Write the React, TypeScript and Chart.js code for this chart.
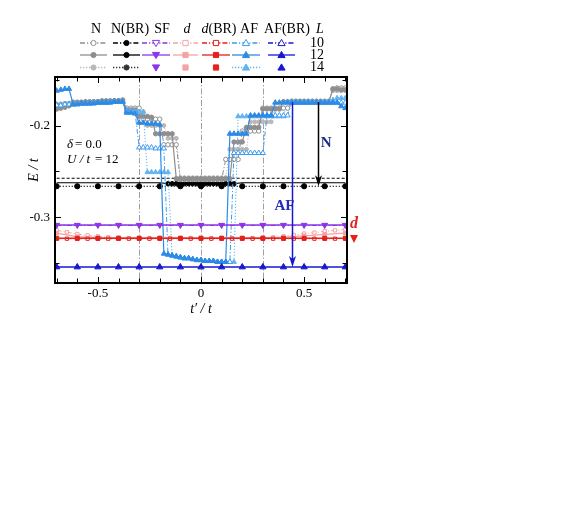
import React, { useEffect, useRef } from "react";
import { Chart, registerables } from "chart.js";
Chart.register(...registerables);

const SERIF = "'Liberation Serif', 'DejaVu Serif', serif";

// ---------- data ----------
// t'/t grid (step 0.02)
const TP = [
  -0.70, -0.68, -0.66, -0.64, -0.62, -0.60, -0.58, -0.56, -0.54, -0.52,
  -0.50, -0.48, -0.46, -0.44, -0.42, -0.40, -0.38, -0.36, -0.34, -0.32,
  -0.30, -0.28, -0.26, -0.24, -0.22, -0.20, -0.18, -0.16, -0.14, -0.12,
  -0.10, -0.08, -0.06, -0.04, -0.02, 0.00, 0.02, 0.04, 0.06, 0.08,
  0.10, 0.12, 0.14, 0.16, 0.18, 0.20, 0.22, 0.24, 0.26, 0.28,
  0.30, 0.32, 0.34, 0.36, 0.38, 0.40, 0.42, 0.44, 0.46, 0.48,
  0.50, 0.52, 0.54, 0.56, 0.58, 0.60, 0.62, 0.64, 0.66, 0.68,
  0.70,
];
// coarse grids
const TP10 = [-0.7, -0.6, -0.5, -0.4, -0.3, -0.2, -0.1, 0, 0.1, 0.2, 0.3, 0.4, 0.5, 0.6, 0.7];
const TP05 = [
  -0.70, -0.65, -0.60, -0.55, -0.50, -0.45, -0.40, -0.35, -0.30, -0.25,
  -0.20, -0.15, -0.10, -0.05, 0.00, 0.05, 0.10, 0.15, 0.20, 0.25,
  0.30, 0.35, 0.40, 0.45, 0.50, 0.55, 0.60, 0.65, 0.70,
];
const TP_NBR12 = [
  -0.7, -0.6, -0.5, -0.4, -0.3, -0.2, -0.16, -0.14, -0.12, -0.10,
  -0.08, -0.06, -0.04, -0.02, 0.00, 0.02, 0.04, 0.06, 0.08, 0.10,
  0.12, 0.14, 0.16, 0.2, 0.3, 0.4, 0.5, 0.6, 0.7,
];

// AF (L = 10, 12, 14)
const AF10 = [
  -0.178, -0.178, -0.177, -0.177, -0.177, -0.176, -0.176, -0.176, -0.176, -0.175,
  -0.175, -0.175, -0.175, -0.174, -0.174, -0.174, -0.174, -0.184, -0.184, -0.185,
  -0.224, -0.224, -0.224, -0.224, -0.225, -0.225, -0.225, -0.341, -0.342, -0.343,
  -0.344, -0.345, -0.345, -0.346, -0.347, -0.347, -0.348, -0.348, -0.348, -0.349,
  -0.349, -0.349, -0.349, -0.230, -0.230, -0.230, -0.230, -0.230, -0.230, -0.230,
  -0.230, -0.189, -0.189, -0.189, -0.189, -0.189, -0.189, -0.175, -0.175, -0.175,
  -0.175, -0.175, -0.175, -0.175, -0.175, -0.175, -0.175, -0.175, -0.175, -0.175,
  -0.175,
];
const AF12 = [
  -0.162, -0.161, -0.160, -0.160, -0.177, -0.177, -0.176, -0.176, -0.176, -0.176,
  -0.175, -0.175, -0.175, -0.175, -0.174, -0.174, -0.174, -0.186, -0.186, -0.187,
  -0.197, -0.197, -0.198, -0.198, -0.198, -0.199, -0.340, -0.341, -0.342, -0.343,
  -0.344, -0.345, -0.345, -0.346, -0.347, -0.347, -0.348, -0.348, -0.348, -0.349,
  -0.349, -0.349, -0.209, -0.209, -0.209, -0.209, -0.209, -0.189, -0.189, -0.189,
  -0.189, -0.189, -0.189, -0.175, -0.175, -0.175, -0.175, -0.175, -0.175, -0.175,
  -0.175, -0.175, -0.175, -0.175, -0.175, -0.175, -0.175, -0.175, -0.175, -0.179,
  -0.181,
];
const AF14 = [
  -0.177, -0.177, -0.177, -0.176, -0.176, -0.176, -0.176, -0.176, -0.175, -0.175,
  -0.175, -0.175, -0.175, -0.174, -0.174, -0.174, -0.173, -0.184, -0.184, -0.184,
  -0.185, -0.185, -0.251, -0.251, -0.251, -0.251, -0.251, -0.251, -0.342, -0.343,
  -0.344, -0.345, -0.345, -0.346, -0.347, -0.347, -0.348, -0.348, -0.348, -0.349,
  -0.349, -0.349, -0.349, -0.349, -0.190, -0.190, -0.190, -0.190, -0.190, -0.190,
  -0.190, -0.190, -0.190, -0.190, -0.190, -0.190, -0.174, -0.174, -0.174, -0.174,
  -0.174, -0.174, -0.174, -0.174, -0.174, -0.174, -0.174, -0.172, -0.170, -0.170,
  -0.170,
];

// N (L = 10, 12, 14)
const N10 = [
  -0.177, -0.177, -0.176, -0.176, -0.176, -0.175, -0.175, -0.175, -0.175, -0.174,
  -0.174, -0.174, -0.174, -0.174, -0.173, -0.173, -0.173, -0.181, -0.181, -0.181,
  -0.181, -0.193, -0.193, -0.193, -0.193, -0.193, -0.221, -0.221, -0.221, -0.221,
  -0.259, -0.259, -0.259, -0.259, -0.259, -0.259, -0.259, -0.259, -0.259, -0.259,
  -0.259, -0.237, -0.237, -0.237, -0.237, -0.206, -0.206, -0.206, -0.206, -0.206,
  -0.181, -0.181, -0.181, -0.181, -0.181, -0.181, -0.181, -0.174, -0.174, -0.174,
  -0.174, -0.174, -0.174, -0.174, -0.174, -0.174, -0.174, -0.160, -0.159, -0.159,
  -0.159,
];
const N12 = [
  -0.182, -0.181, -0.180, -0.178, -0.175, -0.175, -0.175, -0.174, -0.174, -0.174,
  -0.174, -0.173, -0.173, -0.173, -0.173, -0.173, -0.172, -0.183, -0.183, -0.183,
  -0.190, -0.190, -0.190, -0.191, -0.209, -0.209, -0.209, -0.209, -0.209, -0.258,
  -0.258, -0.258, -0.258, -0.258, -0.258, -0.258, -0.258, -0.258, -0.258, -0.258,
  -0.258, -0.258, -0.258, -0.218, -0.218, -0.218, -0.202, -0.202, -0.202, -0.202,
  -0.182, -0.182, -0.182, -0.182, -0.182, -0.174, -0.174, -0.174, -0.174, -0.174,
  -0.174, -0.174, -0.174, -0.174, -0.174, -0.174, -0.174, -0.160, -0.160, -0.161,
  -0.161,
];
const N14 = [
  -0.182, -0.181, -0.180, -0.179, -0.174, -0.174, -0.174, -0.174, -0.174, -0.174,
  -0.174, -0.174, -0.174, -0.174, -0.174, -0.174, -0.174, -0.185, -0.185, -0.185,
  -0.185, -0.185, -0.200, -0.200, -0.200, -0.200, -0.200, -0.214, -0.214, -0.214,
  -0.257, -0.257, -0.257, -0.257, -0.257, -0.257, -0.257, -0.257, -0.257, -0.257,
  -0.257, -0.257, -0.226, -0.226, -0.226, -0.226, -0.226, -0.196, -0.196, -0.196,
  -0.196, -0.196, -0.196, -0.181, -0.181, -0.181, -0.181, -0.173, -0.173, -0.173,
  -0.173, -0.173, -0.173, -0.173, -0.173, -0.173, -0.173, -0.162, -0.162, -0.162,
  -0.162,
];

// N(BR)
const NBR10 = [-0.2576, -0.2576, -0.2576, -0.2576, -0.2576, -0.2576, -0.2576, -0.2576, -0.2576, -0.2576, -0.2576, -0.2576, -0.2576, -0.2576, -0.2576];
const NBR12 = [
  -0.2625, -0.2625, -0.2625, -0.2625, -0.2625, -0.2625, -0.2635, -0.2635, -0.2635, -0.2635,
  -0.2635, -0.2635, -0.2635, -0.2635, -0.2635, -0.2635, -0.2635, -0.2635, -0.2635, -0.2635,
  -0.2635, -0.2635, -0.2635, -0.2625, -0.2625, -0.2625, -0.2625, -0.2625, -0.2625,
];
const NBR14 = [-0.2663, -0.2663, -0.2663, -0.2663, -0.2663, -0.2663, -0.2663, -0.2663, -0.2663, -0.2663, -0.2663, -0.2663, -0.2663, -0.2663, -0.2663];

// SF
const SF12 = [-0.3087, -0.3087, -0.3087, -0.3087, -0.3087, -0.3087, -0.3087, -0.3087, -0.3087, -0.3087, -0.3087, -0.3087, -0.3087, -0.3087, -0.3087];
const SF10 = [-0.3092, -0.3092, -0.3092, -0.3092, -0.3092, -0.3092, -0.3092, -0.3092, -0.3092, -0.3092, -0.3092, -0.3092, -0.3092, -0.3092, -0.3092];

// d
const D12 = [-0.3175, -0.3215, -0.3225, -0.3228, -0.3228, -0.3228, -0.3228, -0.3228, -0.3228, -0.3228, -0.3225, -0.3220, -0.3205, -0.3190, -0.3175];
const D10 = [
  -0.3145, -0.3165, -0.3185, -0.3200, -0.3210, -0.3220, -0.3225, -0.3228, -0.3228, -0.3228,
  -0.3228, -0.3228, -0.3228, -0.3228, -0.3228, -0.3228, -0.3228, -0.3228, -0.3228, -0.3228,
  -0.3225, -0.3220, -0.3210, -0.3195, -0.3180, -0.3170, -0.3155, -0.3145, -0.3135,
];

// d(BR)
const DBR12 = [-0.3232, -0.3232, -0.3232, -0.3232, -0.3232, -0.3232, -0.3232, -0.3232, -0.3232, -0.3232, -0.3232, -0.3232, -0.3232, -0.3232, -0.3232];
const DBR10 = [
  -0.3236, -0.3236, -0.3236, -0.3236, -0.3236, -0.3236, -0.3236, -0.3236, -0.3236, -0.3236,
  -0.3236, -0.3236, -0.3236, -0.3236, -0.3236, -0.3236, -0.3236, -0.3236, -0.3236, -0.3236,
  -0.3236, -0.3236, -0.3236, -0.3236, -0.3236, -0.3236, -0.3236, -0.3236, -0.3236,
];

// AF(BR)
const AFBR12 = [-0.3546, -0.3546, -0.3546, -0.3546, -0.3546, -0.3546, -0.3546, -0.3546, -0.3546, -0.3546, -0.3546, -0.3546, -0.3546, -0.3546, -0.3546];

// axis ticks
const X_LABELS = [-0.5, 0, 0.5];
const Y_LABELS = [-0.3, -0.2];
const X_MINOR = [-0.7, -0.6, -0.5, -0.4, -0.3, -0.2, -0.1, 0, 0.1, 0.2, 0.3, 0.4, 0.5, 0.6, 0.7];
const Y_MINOR = [-0.35, -0.3, -0.25, -0.2, -0.15];
const V_LINES = [-0.3, 0, 0.3];

// annotations (data coordinates)
const ARROW_AF = { x: 0.442, from: -0.1745, to: -0.3546 };
const ARROW_N = { x: 0.568, from: -0.1745, to: -0.2663 };
const LABEL_AF = { x: 0.405, y: -0.2875, text: "AF" };
const LABEL_N = { x: 0.607, y: -0.2195, text: "N" };
const LEG_ROWS = ["10", "12", "14"];

// ---------- styles ----------
const C = {
  N: "#8e8e8e",
  N14: "#b8b8b8",
  NBR: "#000000",
  SF: "#8b36e8",
  d: "#f3a3a3",
  dBR: "#e3211d",
  AF: "#2d8be6",
  AF10: "#3d9bf0",
  AF14: "#62b3f2",
  AFBR: "#1717d0",
};
const DASH_DOT = [5, 2, 1.2, 2];
const DOTTED = [1.3, 1.7];

function pts(xs: number[], ys: number[]) {
  return xs.map((x, i) => ({ x, y: ys[i] }));
}

function ds(
  label: string,
  xs: number[],
  ys: number[],
  color: string,
  dash: number[],
  marker: string,
  filled: boolean,
  radius: any,
  width: number,
  showLine = true
) {
  return {
    label,
    data: pts(xs, ys),
    borderColor: color,
    borderWidth: width,
    borderDash: dash,
    pointStyle: marker === "tdown" ? "triangle" : marker,
    rotation: marker === "tdown" ? 180 : 0,
    pointRotation: marker === "tdown" ? 180 : 0,
    pointRadius: radius,
    pointBackgroundColor: filled ? color : "#ffffff",
    pointBorderColor: color,
    pointBorderWidth: 1,
    showLine,
    fill: false,
    tension: 0,
  };
}

function drawMarker(ctx: CanvasRenderingContext2D, kind: string, x: number, y: number, color: string, filled: boolean) {
  ctx.save();
  ctx.setLineDash([]);
  ctx.lineWidth = 1;
  ctx.strokeStyle = color;
  ctx.fillStyle = filled ? color : "#ffffff";
  ctx.beginPath();
  if (kind === "circle") {
    ctx.arc(x, y, 2.6, 0, Math.PI * 2);
  } else if (kind === "square") {
    ctx.rect(x - 2.6, y - 2.6, 5.2, 5.2);
  } else if (kind === "tri") {
    ctx.moveTo(x, y - 3.6);
    ctx.lineTo(x + 3.6, y + 2.6);
    ctx.lineTo(x - 3.6, y + 2.6);
    ctx.closePath();
  } else if (kind === "tdown") {
    ctx.moveTo(x, y + 3.6);
    ctx.lineTo(x + 3.6, y - 2.6);
    ctx.lineTo(x - 3.6, y - 2.6);
    ctx.closePath();
  }
  ctx.fill();
  ctx.stroke();
  ctx.restore();
}

type Seg = [string, boolean];
const LEG_COLS: {
  head: Seg[];
  hx: number;
  x0: number;
  x1: number;
  mk: string;
  colors: string[];
  fill: boolean[];
  line: boolean[];
}[] = [
  { head: [["N", false]], hx: 96, x0: 80, x1: 107, mk: "circle", colors: [C.N, C.N, C.N14], fill: [false, true, true], line: [true, true, true] },
  { head: [["N(BR)", false]], hx: 130, x0: 113, x1: 140, mk: "circle", colors: [C.NBR, C.NBR, "#333333"], fill: [true, true, true], line: [true, true, true] },
  { head: [["SF", false]], hx: 162, x0: 142, x1: 170, mk: "tdown", colors: [C.SF, C.SF, C.SF], fill: [false, true, true], line: [true, true, false] },
  { head: [["d", true]], hx: 187, x0: 173, x1: 198, mk: "square", colors: [C.d, C.d, C.d], fill: [false, true, true], line: [true, true, false] },
  { head: [["d", true], ["(BR)", false]], hx: 219, x0: 202, x1: 230, mk: "square", colors: [C.dBR, C.dBR, C.dBR], fill: [false, true, true], line: [true, true, false] },
  { head: [["AF", false]], hx: 249, x0: 232, x1: 260, mk: "tri", colors: [C.AF10, C.AF, C.AF14], fill: [false, true, true], line: [true, true, true] },
  { head: [["AF(BR)", false]], hx: 287, x0: 268, x1: 295, mk: "tri", colors: [C.AFBR, C.AFBR, C.AFBR], fill: [false, true, true], line: [true, true, false] },
];
const ROW_Y = [42.5, 54.5, 67];
const ROW_DASH = [DASH_DOT, [], DOTTED];

function drawSegs(ctx: CanvasRenderingContext2D, segs: Seg[], cx: number, y: number, size: number) {
  const fonts = segs.map(([, it]) => `${it ? "italic " : ""}${size}px ${SERIF}`);
  let total = 0;
  const ws = segs.map(([t], i) => {
    ctx.font = fonts[i];
    const w = ctx.measureText(t).width;
    total += w;
    return w;
  });
  let x = cx - total / 2;
  segs.forEach(([t], i) => {
    ctx.font = fonts[i];
    ctx.textAlign = "left";
    ctx.fillText(t, x, y);
    x += ws[i];
  });
}

function arrow(ctx: CanvasRenderingContext2D, x: number, y0: number, y1: number, color: string) {
  ctx.save();
  ctx.setLineDash([]);
  ctx.strokeStyle = color;
  ctx.fillStyle = color;
  ctx.lineWidth = 1.5;
  ctx.beginPath();
  ctx.moveTo(x, y0);
  ctx.lineTo(x, y1 - 6);
  ctx.stroke();
  ctx.beginPath();
  ctx.moveTo(x, y1);
  ctx.lineTo(x - 3.5, y1 - 11);
  ctx.lineTo(x, y1 - 8);
  ctx.lineTo(x + 3.5, y1 - 11);
  ctx.closePath();
  ctx.fill();
  ctx.restore();
}

const decor = {
  id: "decor",
  beforeDatasetsDraw(chart: any) {
    const { ctx, chartArea: a } = chart;
    const xs = chart.scales.x;
    ctx.save();
    ctx.strokeStyle = "#a0a0a0";
    ctx.lineWidth = 1;
    ctx.setLineDash([6, 2, 1.5, 2]);
    for (const v of V_LINES) {
      const px = Math.round(xs.getPixelForValue(v)) + 0.5;
      ctx.beginPath();
      ctx.moveTo(px, a.top);
      ctx.lineTo(px, a.bottom);
      ctx.stroke();
    }
    ctx.restore();
  },
  afterDraw(chart: any) {
    const { ctx, chartArea: a } = chart;
    const xs = chart.scales.x;
    const ys = chart.scales.y;
    const X = (v: number) => xs.getPixelForValue(v);
    const Y = (v: number) => ys.getPixelForValue(v);
    ctx.save();
    ctx.setLineDash([]);

    // ticks (inward)
    ctx.strokeStyle = "#000";
    ctx.lineWidth = 1;
    for (const v of X_MINOR) {
      const px = Math.round(X(v)) + 0.5;
      const L = X_LABELS.some((m) => Math.abs(m - v) < 1e-9) ? 6 : 4.5;
      ctx.beginPath();
      ctx.moveTo(px, a.bottom);
      ctx.lineTo(px, a.bottom - L);
      ctx.moveTo(px, a.top);
      ctx.lineTo(px, a.top + L);
      ctx.stroke();
    }
    for (const v of Y_MINOR) {
      const py = Math.round(Y(v)) + 0.5;
      const L = Y_LABELS.some((m) => Math.abs(m - v) < 1e-9) ? 6 : 4.5;
      ctx.beginPath();
      ctx.moveTo(a.left, py);
      ctx.lineTo(a.left + L, py);
      ctx.moveTo(a.right, py);
      ctx.lineTo(a.right - L, py);
      ctx.stroke();
    }
    // frame
    ctx.lineWidth = 2;
    ctx.strokeRect(a.left, a.top, a.right - a.left, a.bottom - a.top);

    // arrows
    arrow(ctx, Math.round(X(ARROW_AF.x)) + 0.5, Y(ARROW_AF.from), Y(ARROW_AF.to), C.AFBR);
    arrow(ctx, Math.round(X(ARROW_N.x)) + 0.5, Y(ARROW_N.from), Y(ARROW_N.to), "#000000");

    // labels in plot
    ctx.textBaseline = "middle";
    ctx.textAlign = "center";
    ctx.font = `bold 15px ${SERIF}`;
    ctx.fillStyle = "#1e2a8a";
    ctx.fillText(LABEL_N.text, X(LABEL_N.x), Y(LABEL_N.y));
    ctx.fillStyle = "#2a2ab8";
    ctx.fillText(LABEL_AF.text, X(LABEL_AF.x), Y(LABEL_AF.y));

    // d label outside right
    ctx.fillStyle = C.dBR;
    ctx.font = `italic bold 16px ${SERIF}`;
    ctx.fillText("d", a.right + 7, Y(-0.3087) - 1);
    ctx.beginPath();
    ctx.moveTo(a.right + 3, Y(-0.3228) - 3);
    ctx.lineTo(a.right + 11, Y(-0.3228) - 3);
    ctx.lineTo(a.right + 7, Y(-0.3228) + 5);
    ctx.closePath();
    ctx.fill();

    // parameters text
    ctx.fillStyle = "#000";
    ctx.textAlign = "left";
    ctx.font = `italic 13px ${SERIF}`;
    ctx.fillText("\u03b4", a.left + 12, a.top + 68);
    ctx.font = `13px ${SERIF}`;
    ctx.fillText("= 0.0", a.left + 20, a.top + 68);
    ctx.font = `italic 13px ${SERIF}`;
    ctx.fillText("U / t", a.left + 12, a.top + 83);
    ctx.font = `13px ${SERIF}`;
    ctx.fillText("= 12", a.left + 40, a.top + 83);

    // axis titles
    ctx.textAlign = "center";
    ctx.font = `italic 14px ${SERIF}`;
    ctx.fillText("t\u2032 / t", (a.left + a.right) / 2, 309);
    ctx.save();
    ctx.translate(34, (a.top + a.bottom) / 2 - 10);
    ctx.rotate(-Math.PI / 2);
    ctx.fillText("E / t", 0, 0);
    ctx.restore();

    // legend
    ctx.fillStyle = "#000";
    ctx.textBaseline = "middle";
    for (const col of LEG_COLS) {
      drawSegs(ctx, col.head, col.hx, 29.5, 14);
      ROW_Y.forEach((ry, r) => {
        const color = col.colors[r];
        if (col.line[r]) {
          ctx.save();
          ctx.strokeStyle = color;
          ctx.lineWidth = 1.3;
          ctx.setLineDash(ROW_DASH[r]);
          ctx.beginPath();
          ctx.moveTo(col.x0, ry + 0.5);
          ctx.lineTo(col.x1, ry + 0.5);
          ctx.stroke();
          ctx.restore();
        }
        drawMarker(ctx, col.mk, (col.x0 + col.x1) / 2, ry + 0.5, color, col.fill[r]);
      });
    }
    ctx.fillStyle = "#000";
    drawSegs(ctx, [["L", true]], 320, 29.5, 14);
    LEG_ROWS.forEach((t, r) => drawSegs(ctx, [[t, false]], 317, ROW_Y[r] + 0.5, 14));

    ctx.restore();
  },
};

export default function App() {
  const ref = useRef<HTMLCanvasElement>(null);
  useEffect(() => {
    const canvas = ref.current;
    if (!canvas) return;
    const nbrRadius = (c: any) => {
      const p = c.raw;
      return p && Math.abs(p.x) < 0.17 ? 2.2 : 0;
    };
    const chart = new Chart(canvas, {
      type: "line",
      data: {
        datasets: [
          ds("SF L=12", TP10, SF12, C.SF, [], "tdown", true, 3.4, 1.5),
          ds("SF L=10", TP10, SF10, C.SF, DASH_DOT, "tdown", false, 0, 1),
          ds("d(BR) L=12", TP10, DBR12, C.dBR, [], "rect", true, 2.8, 1.5),
          ds("d(BR) L=10", TP05, DBR10, C.dBR, DASH_DOT, "rect", false, 2.3, 1),
          ds("d L=12", TP10, D12, C.d, [], "rect", true, 2.6, 1.3),
          ds("d L=10", TP05, D10, C.d, DASH_DOT, "rect", false, 2.3, 1),
          ds("AF(BR) L=12", TP10, AFBR12, C.AFBR, [], "triangle", true, 3.6, 1.5),
          ds("AF L=12", TP, AF12, C.AF, [], "triangle", true, 3, 1.2),
          ds("AF L=10", TP, AF10, C.AF10, DASH_DOT, "triangle", false, 3, 1),
          ds("AF L=14", TP, AF14, C.AF14, DOTTED, "triangle", true, 2.8, 1),
          ds("N L=12", TP, N12, C.N, [], "circle", true, 2.2, 1.2),
          ds("N L=10", TP, N10, C.N, DASH_DOT, "circle", false, 2.2, 1),
          ds("N L=14", TP, N14, C.N14, DOTTED, "circle", true, 2, 1),
          ds("N(BR) L=12", TP_NBR12, NBR12, C.NBR, [], "circle", true, nbrRadius, 1.2),
          ds("N(BR) L=14", TP10, NBR14, C.NBR, DOTTED, "circle", true, 2.6, 1.2),
          ds("N(BR) L=10", TP10, NBR10, C.NBR, [3, 2], "circle", true, 0, 1.1),
        ] as any,
      },
      options: {
        responsive: false,
        animation: false,
        events: [],
        layout: { padding: { left: 0, right: 225, top: 77, bottom: 0 } },
        plugins: { legend: { display: false }, tooltip: { enabled: false } },
        scales: {
          x: {
            type: "linear",
            min: -0.708,
            max: 0.708,
            grid: { display: false, drawTicks: false },
            border: { display: false },
            afterBuildTicks: (s: any) => {
              s.ticks = X_LABELS.map((v) => ({ value: v }));
            },
            afterFit: (s: any) => {
              s.height = 226;
            },
            ticks: {
              padding: 3,
              color: "#000",
              font: { family: SERIF, size: 13 },
              maxRotation: 0,
              autoSkip: false,
              callback: (v: any) => String(v),
            },
          },
          y: {
            type: "linear",
            min: -0.372,
            max: -0.147,
            grid: { display: false, drawTicks: false },
            border: { display: false },
            afterBuildTicks: (s: any) => {
              s.ticks = Y_LABELS.map((v) => ({ value: v }));
            },
            afterFit: (s: any) => {
              s.width = 55;
            },
            ticks: {
              padding: 5,
              color: "#000",
              font: { family: SERIF, size: 13 },
              autoSkip: false,
              callback: (v: any) => String(v),
            },
          },
        },
      },
      plugins: [decor],
    });
    return () => chart.destroy();
  }, []);
  return (
    <div style={{ position: "fixed", left: 0, top: 0, width: 572, height: 509, background: "#fff" }}>
      <canvas ref={ref} width={572} height={509} style={{ display: "block", width: 572, height: 509 }} />
    </div>
  );
}
